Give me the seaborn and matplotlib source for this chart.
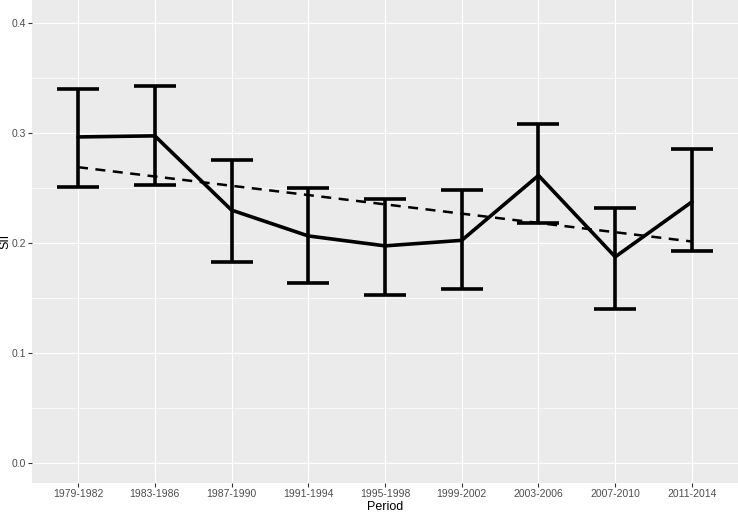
import numpy as np
import pandas as pd
import seaborn as sns
import matplotlib.pyplot as plt

periods = ["1979-1982", "1983-1986", "1987-1990", "1991-1994", "1995-1998",
           "1999-2002", "2003-2006", "2007-2010", "2011-2014"]
sii = [0.296, 0.297, 0.2295, 0.206, 0.197, 0.202, 0.261, 0.187, 0.237]
lower = [0.2505, 0.252, 0.182, 0.163, 0.152, 0.158, 0.218, 0.140, 0.192]
upper = [0.3395, 0.342, 0.275, 0.250, 0.240, 0.248, 0.308, 0.231, 0.285]

df = pd.DataFrame({"Period": periods, "SII": sii, "lo": lower, "hi": upper})
df["pos"] = np.arange(len(df))

sns.set_theme(style="darkgrid", rc={
    "axes.facecolor": "#EBEBEB",
    "grid.color": "white",
    "axes.edgecolor": "#EBEBEB",
})
plt.rcParams["font.family"] = ["Liberation Sans", "DejaVu Sans"]

fig = plt.figure(figsize=(7.38, 5.12), dpi=100)
ax = fig.add_axes([32 / 738, 29 / 512, 706 / 738, 483 / 512])

# minor grid
for v in [0.05, 0.15, 0.25, 0.35]:
    ax.axhline(v, color="white", lw=0.5, zorder=0.5)

# error bars
ax.errorbar(df["pos"], df["SII"],
            yerr=[df["SII"] - df["lo"], df["hi"] - df["SII"]],
            fmt="none", ecolor="black", elinewidth=2.6, capsize=15,
            capthick=2.6, zorder=3)

# mean line
sns.lineplot(data=df, x="pos", y="SII", color="black", lw=2.6, ax=ax,
             zorder=4, sort=False)

# linear trend
sns.regplot(data=df, x="pos", y="SII", ci=None, scatter=False, ax=ax,
            line_kws={"color": "black", "lw": 1.8, "ls": (0, (4, 3)),
                      "zorder": 4}, truncate=True)

ax.set_xlim(-0.6, 8.6)
ax.set_ylim(-0.0186, 0.4205)
ax.set_xticks(df["pos"])
ax.set_xticklabels(periods)
ax.set_yticks([0.0, 0.1, 0.2, 0.3, 0.4])
ax.set_yticklabels(["0.0", "0.1", "0.2", "0.3", "0.4"])
ax.grid(True, color="white", lw=0.8)
ax.tick_params(axis="both", labelsize=7.5, labelcolor="#4D4D4D",
               color="#333333", length=3, width=0.8, pad=1.5, bottom=True,
               left=True)
ax.set_xlabel("Period", fontsize=9, color="black", labelpad=1)
ax.set_ylabel("SII", fontsize=9, color="black")
ax.yaxis.set_label_coords(-0.0295, 0.5)
for s in ax.spines.values():
    s.set_visible(False)

fig.savefig("out.png", dpi=100)
